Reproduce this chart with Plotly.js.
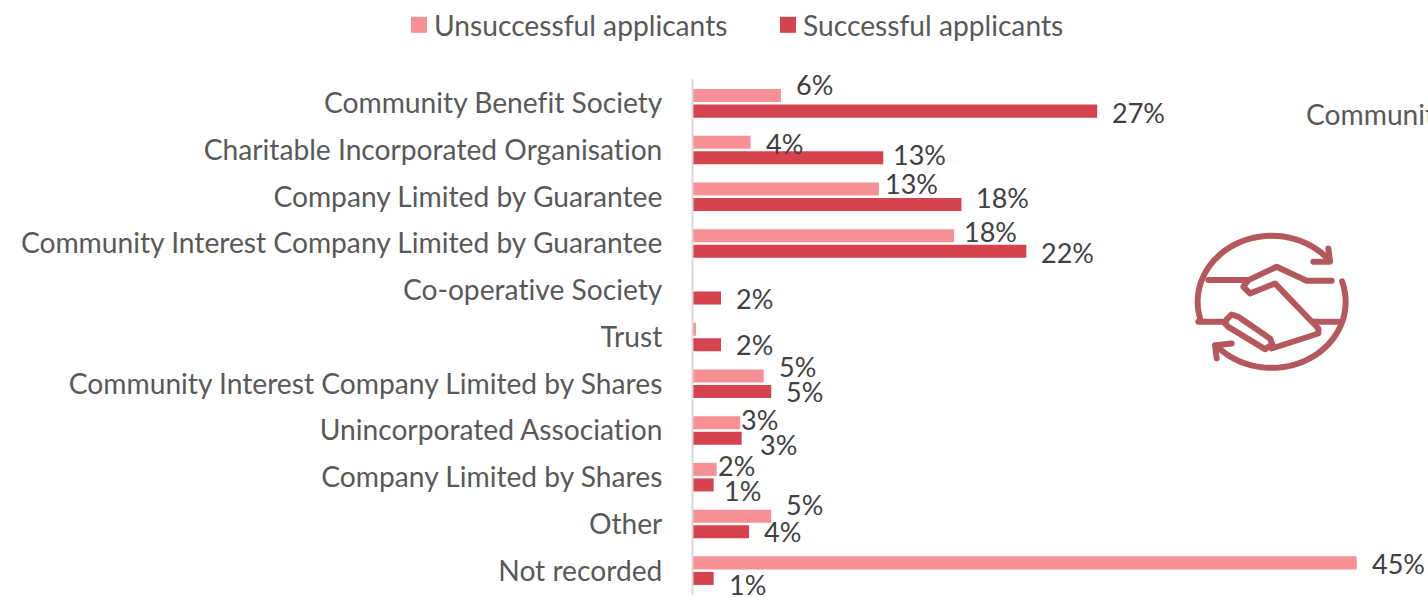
<!DOCTYPE html>
<html><head><meta charset="utf-8">
<script src="https://cdn.plot.ly/plotly-3.0.1.min.js"></script>
<style>html,body{margin:0;padding:0;background:#fff;overflow:hidden}
svg text{font-variant-ligatures:none !important;font-feature-settings:"liga" 0,"clig" 0 !important}
.shapelayer path{stroke-linecap:round;stroke-linejoin:round}</style>
</head><body><div id="chart" style="width:1428px;height:597px"></div>
<script>
const categories = ["Community Benefit Society","Charitable Incorporated Organisation","Company Limited by Guarantee","Community Interest Company Limited by Guarantee","Co-operative Society","Trust","Community Interest Company Limited by Shares","Unincorporated Association","Company Limited by Shares","Other","Not recorded"];
const unsuccessful = [5.96,3.9,12.6,17.7,0,0.2,4.8,3.2,1.6,5.3,45];
const successful = [27.4,12.9,18.2,22.6,1.9,1.9,5.3,3.3,1.4,3.8,1.4];
const unsuccessfulLabels = ["6%","4%","13%","18%","","","5%","3%","2%","5%","45%"];
const successfulLabels = ["27%","13%","18%","22%","2%","2%","5%","3%","1%","4%","1%"];
// label offsets in pixels from bar end / category centre
const uDx = [15,15,6,10,0,0,15,1,1,15,15], uDy = [-18.5,-7,-13.5,-12,0,0,-17,-11,-12,-19,-7.5];
const sDx = [15,10,15,15,15,15,15,18,10,15,15], sDy = [9.5,4,1,8.5,8,7,8,14,13,8,13.5];

const W=1428,H=597,L=693,T=80,B=593.7,R=1428;
const FONT='Lato, sans-serif', PINK='#F79195', RED='#D5434E', ICON='#B5585D', TXT=28.2;
const pX=x=>(x-L)/(R-L), pY=y=>(B-y)/(B-T);
const zx=x=>1180+x/3, zy=y=>220+y/3;
const pt=(x,y)=>pX(zx(x)).toFixed(4)+','+pY(zy(y)).toFixed(4);
const poly=(pts)=>'M'+pts.map(p=>pt(p[0],p[1])).join(' L');
const arc=(a0,a1)=>{const pts=[];for(let a=a0;a<=a1;a+=3){const t=a*Math.PI/180;pts.push([275+222*Math.cos(t),245+198*Math.sin(t)]);}return poly(pts);};
const iconPaths=[arc(163,319),arc(-18,136),
 poly([[445,85],[450,125],[400,125]]),
 poly([[155,370],[105,375],[110,415]]),
 poly([[85,180],[205,180],[290,140],[380,182],[455,182]]),
 poly([[55,305],[130,305]]),poly([[400,305],[475,305]]),
 poly([[205,180],[190,200],[210,220],[285,190],[415,325],[415,340],[275,385]]),
 poly([[140,298],[155,283],[175,290],[270,355],[277,372],[255,387],[145,320],[135,310],[140,298]])
];
const shapes=iconPaths.map(d=>({type:'path',path:d,xref:'paper',yref:'paper',line:{color:ICON,width:6},layer:'above'}));
const annotations=[];
const addLabels=(vals,labels,dx,dy)=>labels.forEach((t,i)=>{ if(!t)return;
 annotations.push({x:vals[i],y:categories[i],xref:'x',yref:'y',text:t,showarrow:false,xanchor:'left',yanchor:'middle',xshift:dx[i],yshift:-dy[i],font:{family:FONT,size:27,color:'#404040'},borderpad:0,borderwidth:0});});
addLabels(unsuccessful,unsuccessfulLabels,uDx,uDy);
addLabels(successful,successfulLabels,sDx,sDy);
annotations.push({xref:'paper',yref:'paper',x:pX(1305),y:pY(114),text:'Community',showarrow:false,xanchor:'left',yanchor:'middle',font:{family:FONT,size:TXT,color:'#595959'},borderpad:0});

Plotly.newPlot('chart',[
 {type:'bar',orientation:'h',name:'Unsuccessful applicants',y:categories,x:unsuccessful,marker:{color:PINK},hoverinfo:'skip'},
 {type:'bar',orientation:'h',name:'Successful applicants',y:categories,x:successful,marker:{color:RED},hoverinfo:'skip'}
],{
 width:W,height:H,margin:{l:L,r:0,t:T,b:H-B,pad:0},paper_bgcolor:'#fff',plot_bgcolor:'#fff',
 barmode:'group',bargap:0.336,bargroupgap:0.16,
 font:{family:FONT,size:TXT,color:'#595959'},
 xaxis:{range:[0,(R-L)/14.75],visible:false,fixedrange:true},
 yaxis:{type:'category',categoryorder:'array',categoryarray:categories,range:[10.5,-0.5],showgrid:false,zeroline:false,showline:false,ticks:'outside',ticklen:24,tickcolor:'rgba(0,0,0,0)',tickfont:{family:FONT,size:TXT,color:'#595959'},automargin:false,fixedrange:true},
 showlegend:true,
 legend:{orientation:'h',x:399/W,xref:'container',xanchor:'left',y:1,yref:'container',yanchor:'top',entrywidth:320,entrywidthmode:'pixels',font:{family:FONT,size:TXT,color:'#595959'},traceorder:'normal',itemclick:false,itemdoubleclick:false,bgcolor:'rgba(0,0,0,0)'},
 shapes:[{type:'line',xref:'paper',yref:'paper',x0:-0.0007,x1:-0.0007,y0:0,y1:1,line:{color:'#D9D9D9',width:2}}].concat(shapes),
 annotations:annotations
},{displayModeBar:false,staticPlot:true}).then(()=>{
 // legend entries: 16px squares, tighter text, reference spacing
 document.querySelectorAll('.legend .traces').forEach((g,i)=>{
  g.querySelectorAll('.legendpoints path').forEach(p=>{p.setAttribute('d','M8,8H-8V-8H8Z');});
  const t=g.querySelector('text.legendtext');
  t.setAttribute('x',parseFloat(t.getAttribute('x'))-5);
  if(i===1){const m=/translate\(([-\d.]+),\s*([-\d.]+)\)/.exec(g.getAttribute('transform'));
   const first=/translate\(([-\d.]+)/.exec(g.previousElementSibling.getAttribute('transform'));
   g.setAttribute('transform','translate('+(parseFloat(first[1])+369)+','+m[2]+')');}
 });
});
</script></body></html>
